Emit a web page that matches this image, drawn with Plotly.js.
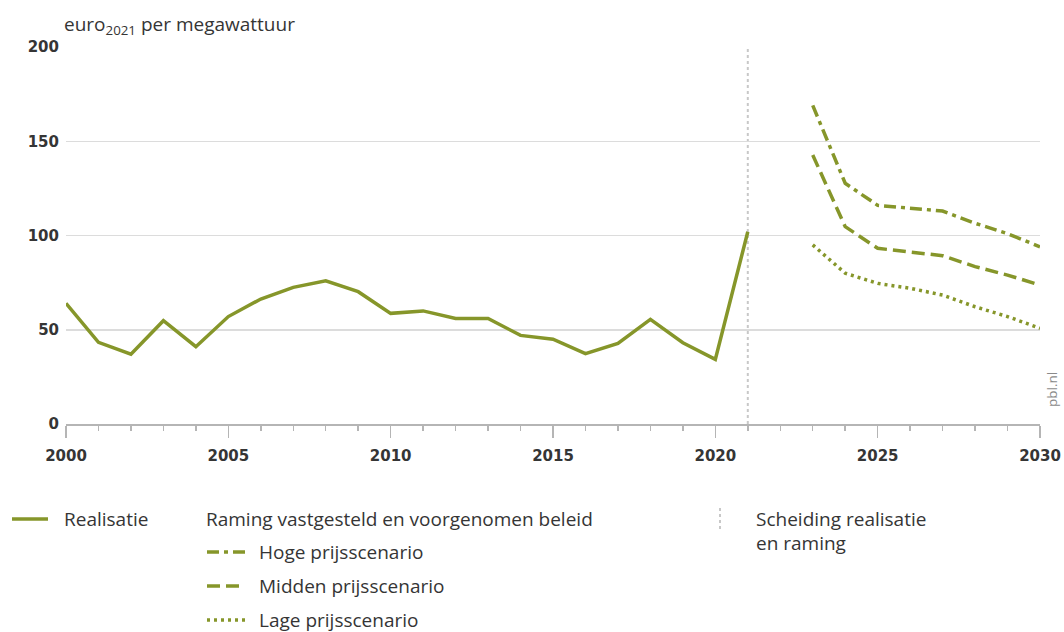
<!DOCTYPE html>
<html>
<head>
<meta charset="utf-8">
<script src="https://cdn.plot.ly/plotly-3.0.1.min.js"></script>
<style>
html,body{margin:0;padding:0;background:#fff;}
#chart{width:1064px;height:632px;}
</style>
</head>
<body>
<div id="chart"></div>
<script>
// Data
var yearsReal = [2000,2001,2002,2003,2004,2005,2006,2007,2008,2009,2010,2011,2012,2013,2014,2015,2016,2017,2018,2019,2020,2021];
var realisatie = [64,43.3,37,54.8,41,57,66.3,72.5,76,70.2,58.7,60,56,56,47,45,37.3,42.8,55.5,43.1,34.3,102];
var yearsRaming = [2023,2024,2025,2026,2027,2028,2029,2030];
var hoge = [169,127.7,116,114.5,113,106.5,101,94];
var midden = [142.7,104.7,93.2,91.4,89.3,83.5,79,73.7];
var lage = [95,80,74.6,72,68.4,62.2,57,50.8];
var separatorYear = 2021;
var yTicks = [0,50,100,150,200];
var xTicks = [2000,2005,2010,2015,2020,2025,2030];

var green = '#86962a';
var fontFam = '"Open Sans", "Noto Sans", sans-serif';
var tickFam = '"DejaVu Sans", sans-serif';
var txt = '#353535';
var dashHoge = '12px,5px,4px,5px';
var dashMidden = '13px,6px';
var dashLage = '3px,4px';

var traces = [
  {x: yearsReal, y: realisatie, mode:'lines', name:'Realisatie', line:{color:green, width:3.5}},
  {x: yearsRaming, y: hoge, mode:'lines', name:'Hoge prijsscenario', line:{color:green, width:3.5, dash:dashHoge}},
  {x: yearsRaming, y: midden, mode:'lines', name:'Midden prijsscenario', line:{color:green, width:3.5, dash:dashMidden}},
  {x: yearsRaming, y: lage, mode:'lines', name:'Lage prijsscenario', line:{color:green, width:3.5, dash:dashLage}}
];

// plot area: left 66, right 1040, top 47, bottom 424
var L=66, R=1040, T=47, B=424;
function px(x){return (x-L)/(R-L);}
function py(y){return (B-y)/(B-T);}

var shapes = [
  {type:'line', xref:'x', yref:'y', x0:separatorYear, x1:separatorYear, y0:0, y1:200, line:{color:'#c8c8c8', width:2, dash:'dot'}, layer:'below'},
  // legend samples
  {type:'line', xref:'paper', yref:'paper', x0:px(12), x1:px(48), y0:py(519), y1:py(519), line:{color:green, width:3.5}},
  {type:'line', xref:'paper', yref:'paper', x0:px(207), x1:px(245), y0:py(552), y1:py(552), line:{color:green, width:3.5, dash:dashHoge}},
  {type:'line', xref:'paper', yref:'paper', x0:px(207), x1:px(245), y0:py(586), y1:py(586), line:{color:green, width:3.5, dash:dashMidden}},
  {type:'line', xref:'paper', yref:'paper', x0:px(207), x1:px(245), y0:py(620), y1:py(620), line:{color:green, width:3.5, dash:dashLage}},
  {type:'line', xref:'paper', yref:'paper', x0:px(720), x1:px(720), y0:py(508), y1:py(532), line:{color:'#c8c8c8', width:2, dash:'dot'}}
];

function ann(text, x, y, extra){
  var a = {text:text, xref:'paper', yref:'paper', x:px(x), y:py(y), xanchor:'left', yanchor:'middle', showarrow:false, font:{family:fontFam, size:19, color:txt}};
  if (extra) for (var k in extra) a[k]=extra[k];
  return a;
}

var annotations = [
  ann('euro<sub>2021</sub> per megawattuur', 62, 25, {font:{family:fontFam, size:19, color:txt}}),
  ann('Realisatie', 62, 519),
  ann('Raming vastgesteld en voorgenomen beleid', 204, 519),
  ann('Hoge prijsscenario', 257, 552),
  ann('Midden prijsscenario', 257, 586),
  ann('Lage prijsscenario', 257, 620),
  ann('Scheiding realisatie', 754, 519),
  ann('en raming', 754, 543),
  ann('pbl.nl', 1052, 390, {xanchor:'center', textangle:-90, font:{family:fontFam, size:13.5, color:'#8a8a8a'}})
];

var layout = {
  width:1064, height:632,
  margin:{l:L, r:1064-R, t:T, b:632-B, pad:0},
  paper_bgcolor:'#fff', plot_bgcolor:'#fff',
  showlegend:false,
  font:{family:fontFam, color:txt, size:15},
  xaxis:{
    range:[2000,2030], tickvals:xTicks, ticktext:xTicks.map(String),
    showgrid:false, zeroline:false,
    showline:true, linecolor:'#b5b5b5', linewidth:1.5,
    ticks:'outside', ticklen:12, tickcolor:'#b5b5b5', tickwidth:1.5,
    minor:{dtick:1, ticks:'outside', ticklen:5, tickcolor:'#b5b5b5', tickwidth:1.5, showgrid:false},
    tickfont:{family:tickFam, size:15, color:txt, weight:'bold'},
    ticklabelstandoff:5,
    fixedrange:true
  },
  yaxis:{
    range:[0,200], tickvals:yTicks, ticktext:yTicks.map(String),
    showgrid:true, gridcolor:'#dcdcdc', gridwidth:1.5,
    zeroline:false, showline:false, ticks:'',
    tickfont:{family:tickFam, size:15, color:txt, weight:'bold'},
    ticklabelstandoff:6,
    fixedrange:true
  },
  shapes:shapes,
  annotations:annotations
};

Plotly.newPlot('chart', traces, layout, {displayModeBar:false, staticPlot:true});
</script>
</body>
</html>
